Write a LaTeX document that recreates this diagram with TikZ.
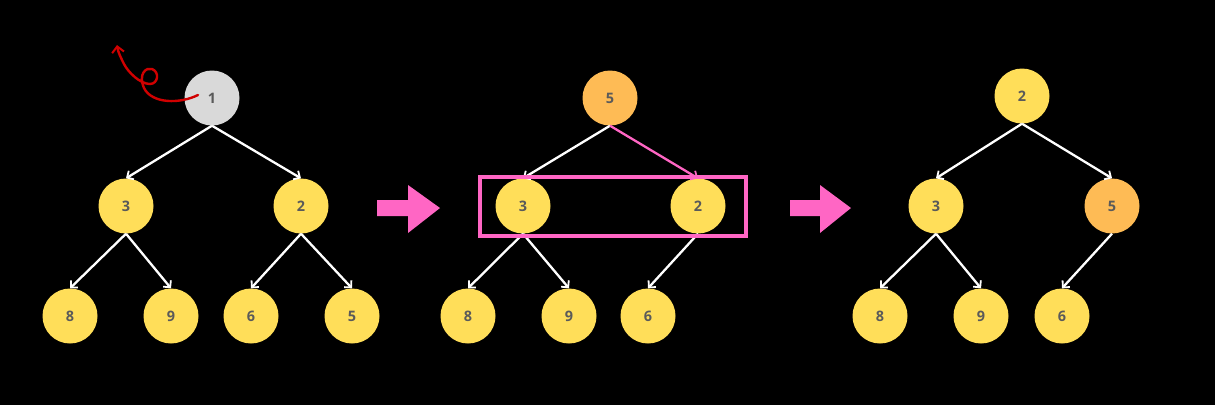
\documentclass[tikz,border=0pt]{standalone}
\usepackage{fontspec}
\setmainfont{Open Sans}
\usetikzlibrary{arrows.meta}
\definecolor{ny}{HTML}{FFDE59}
\definecolor{no}{HTML}{FEBB55}
\definecolor{ng}{HTML}{D9D9D9}
\definecolor{pk}{HTML}{FF66C4}
\definecolor{tx}{HTML}{5A5A5A}
\definecolor{rd}{HTML}{D00000}
\tikzset{
  nd/.style={circle, minimum size=55bp, inner sep=0pt, fill=ny, text=tx, font=\fontsize{14.5}{17}\selectfont\bfseries},
  ndo/.style={nd, fill=no},
  ndg/.style={nd, fill=ng},
  ed/.style={draw=white, line width=2.3bp, -{Straight Barb[length=5bp,width=10bp,line width=1.8bp]}},
  edp/.style={draw=pk, line width=2.3bp, -{Straight Barb[length=5bp,width=10bp,line width=1.8bp]}},
  bigarrow/.style={fill=pk}
}
\begin{document}
\begin{tikzpicture}[x=1bp,y=-1bp]
\fill[black] (0,0) rectangle (1215,405);
\useasboundingbox (0,0) rectangle (1215,405);
% tree 1
\node[ndg] (a1) at (212,98) {1};
\node[nd] (a3) at (126,206) {3};
\node[nd] (a2) at (301,206) {2};
\node[nd] (a8) at (70,316) {8};
\node[nd] (a9) at (171,316) {9};
\node[nd] (a6) at (251,316) {6};
\node[nd] (a5) at (352,316) {5};
\draw[ed] (a1.south) -- (a3.north);
\draw[ed] (a1.south) -- (a2.north);
\draw[ed] (a3.south) -- (a8.north);
\draw[ed] (a3.south) -- (a9.north);
\draw[ed] (a2.south) -- (a6.north);
\draw[ed] (a2.south) -- (a5.north);
\coordinate (cs) at (198,95);
\coordinate (ce) at (117,45);
\draw[rd, line width=2.4bp, line cap=round, -{Straight Barb[length=6bp,width=12bp,line width=2bp]}]
  (cs) .. controls (180,104) and (152,104) .. (144,88)
  .. controls (138,74) and (146,67) .. (152,69)
  .. controls (160,72) and (158,84) .. (150,84)
  .. controls (140,84) and (128,72) .. (124,64)
  .. controls (121,58) and (118,52) .. (ce);
% arrow 1
\fill[bigarrow] (377,200) -- (408,200) -- (408,185) -- (440,208) -- (408,233) -- (408,216) -- (377,216) -- cycle;
% tree 2
\node[ndo] (b5) at (610,98) {5};
\node[nd] (b3) at (523,206) {3};
\node[nd] (b2) at (698,206) {2};
\node[nd] (b8) at (468,316) {8};
\node[nd] (b9) at (569,316) {9};
\node[nd] (b6) at (648,316) {6};
\draw[ed] (b5.south) -- (b3.north);
\draw[edp] (b5.south) -- (b2.north);
\draw[ed] (b3.south) -- (b8.north);
\draw[ed] (b3.south) -- (b9.north);
\draw[ed] (b2.south) -- (b6.north);
\node[draw=pk, line width=4bp, minimum width=266bp, minimum height=59bp, inner sep=0pt] (box) at (613,206.5) {};
% arrow 2
\fill[bigarrow] (790,200) -- (820,200) -- (820,185) -- (851,208) -- (820,233) -- (820,216) -- (790,216) -- cycle;
% tree 3
\node[nd] (c2) at (1022,96) {2};
\node[nd] (c3) at (936,206) {3};
\node[ndo] (c5) at (1112,206) {5};
\node[nd] (c8) at (880,316) {8};
\node[nd] (c9) at (981,316) {9};
\node[nd] (c6) at (1062,316) {6};
\draw[ed] (c2.south) -- (c3.north);
\draw[ed] (c2.south) -- (c5.north);
\draw[ed] (c3.south) -- (c8.north);
\draw[ed] (c3.south) -- (c9.north);
\draw[ed] (c5.south) -- (c6.north);
\end{tikzpicture}
\end{document}
